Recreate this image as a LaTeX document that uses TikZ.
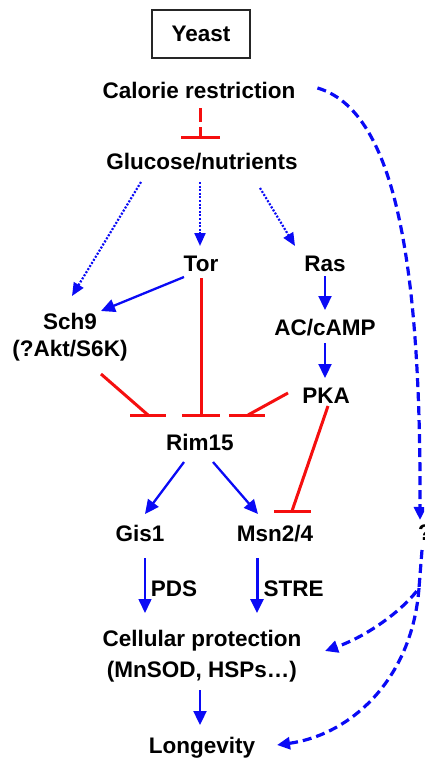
\documentclass[tikz,border=0pt]{standalone}
\usepackage{fontspec}
\setmainfont{Liberation Sans}
\usetikzlibrary{arrows.meta,calc}
\definecolor{actblue}{RGB}{10,10,245}
\definecolor{inhred}{RGB}{245,15,15}

\begin{document}
\begin{tikzpicture}[x=1pt,y=-1pt,
  lbl/.style={font=\fontsize{22.5}{26}\selectfont\bfseries, inner sep=0pt,
    text height=16pt, text depth=0pt},
  mlbl/.style={font=\bfseries, inner sep=0pt, align=center, anchor=north},
  act/.style={draw=actblue, line width=2.3pt, -{Triangle[length=14pt,width=13pt]}},
  dotact/.style={draw=actblue, line width=2.2pt, dash pattern=on 2pt off 1.6pt,
    -{Triangle[length=13pt,width=11pt]}},
  inh/.style={draw=inhred, line width=3pt},
  farlink/.style={draw=actblue, line width=3.2pt, dash pattern=on 9pt off 5pt,
    -{Triangle[length=13pt,width=12pt]}},
]
\useasboundingbox (0,0) rectangle (424,760);
\clip (0,0) rectangle (424,760);

% ---- labels ----
\node[lbl, draw=black!85, line width=1.6pt, minimum width=98pt, minimum height=48pt,
  text height=16pt] (yeast) at (201,34) {Yeast};
\node[lbl] (cr)  at (199,90)  {Calorie restriction};
\node[lbl] (gn)  at (202,161) {Glucose/nutrients};
\node[lbl] (tor) at (201,263) {Tor};
\node[lbl] (ras) at (325,263) {Ras};
\node[mlbl, font=\fontsize{22.5}{27}\selectfont\bfseries] (sch) at (70,313) {Sch9\\(?Akt/S6K)};
\node[lbl] (ac)  at (325,327) {AC/cAMP};
\node[lbl] (pka) at (326,395) {PKA};
\node[lbl] (rim) at (200,442) {Rim15};
\node[lbl] (gis) at (140,533) {Gis1};
\node[lbl] (msn) at (275,533) {Msn2/4};
\node[lbl] (q)   at (425,532) {?};
\node[mlbl, font=\fontsize{22.5}{31}\selectfont\bfseries] (cp) at (202,630)
  {Cellular protection\\(MnSOD, HSPs…)};
\node[lbl] (lg)  at (202,745) {Longevity};

% ---- calorie restriction inhibits nutrient signalling ----
\draw[inh, dash pattern=on 14pt off 5pt] ($(cr)+(1,18)$) -- ($(gn)+(-2,-24)$);
\draw[inh] ($(gn)+(-21,-24)$) -- ($(gn)+(18,-24)$);

% ---- nutrient sensing ----
\draw[dotact] ($(gn)+(-61,21)$) -- ($(sch.north)+(2,-17)$);
\draw[dotact] ($(gn)+(-2,21)$)  -- ($(tor)+(-1,-17)$);
\draw[dotact] ($(gn)+(58,27)$)  -- ($(ras)+(-30,-17)$);

% ---- kinase cascades ----
\draw[act] ($(tor)+(-17,14)$) -- ($(sch.north)+(31,-2)$);
\draw[act] ($(ras)+(0,13)$) -- ($(ac)+(0,-17)$);
\draw[act] ($(ac)+(0,16)$) -- ($(pka)+(-1,-17)$);

% ---- inhibition of Rim15 ----
\draw[inh] ($(tor)+(0,15)$) -- ($(rim)+(1,-27)$);
\draw[inh] ($(rim)+(-18,-27)$) -- ($(rim)+(20,-27)$);
\draw[inh] ($(sch.north)+(31,61)$) -- ($(rim)+(-52,-27)$);
\draw[inh] ($(rim)+(-70,-27)$) -- ($(rim)+(-34,-27)$);
\draw[inh] ($(pka)+(-38,-2)$) -- ($(rim)+(48,-27)$);
\draw[inh] ($(rim)+(29,-27)$) -- ($(rim)+(65,-27)$);

% ---- PKA inhibits Msn2/4 ----
\draw[inh] ($(pka)+(2,11)$) -- ($(msn)+(17,-22)$);
\draw[inh] ($(msn)+(-1,-22)$) -- ($(msn)+(36,-22)$);

% ---- transcription factors ----
\draw[act] ($(rim)+(-16,20)$) -- ($(gis)+(5,-19)$);
\draw[act] ($(rim)+(13,20)$) -- ($(msn)+(-17,-19)$);
\draw[act, line width=1.6pt] ($(gis)+(5,25)$) --
  node[lbl, pos=0.56, anchor=west, xshift=5pt] (pds) {PDS} ($(cp.north)+(-57,-17)$);
\draw[act, line width=3pt] ($(msn)+(-18,25)$) --
  node[lbl, pos=0.56, anchor=west, xshift=5pt] (stre) {STRE} ($(cp.north)+(55,-17)$);
\draw[act] ($(cp.north)+(-2,60)$) -- ($(lg)+(-2,-20)$);

% ---- unknown parallel route ----
\draw[farlink] ($(cr.east)+(22,-2)$) .. controls (392,110) and (421,250) .. ($(q)+(-5,-12)$);
\coordinate (split) at ($(q)+(-6,56)$);
\draw[farlink] ($(q)+(-3,18)$) -- (split) .. controls (405,608) and (370,635) .. ($(cp.north)+(123,21)$);
\draw[farlink] (split) .. controls (412,680) and (350,735) .. ($(lg)+(75,0)$);
\end{tikzpicture}
\end{document}
